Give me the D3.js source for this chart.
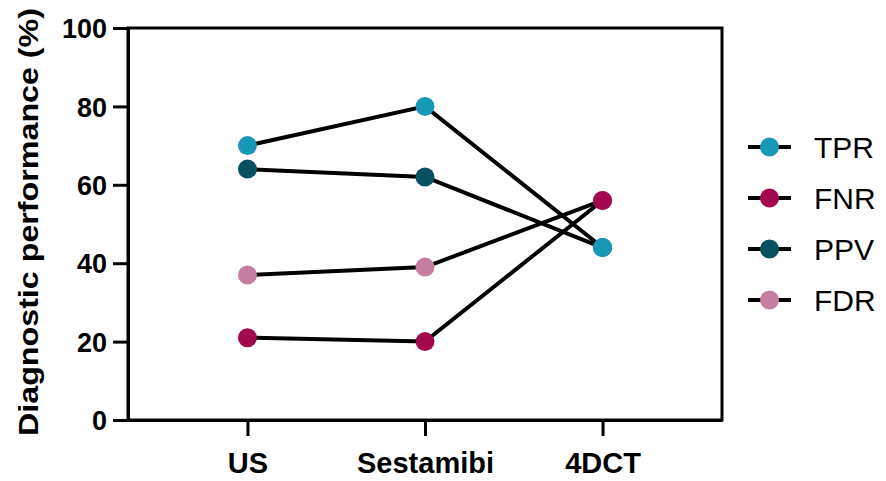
<!DOCTYPE html>
<html><head><meta charset="utf-8">
<script src="https://cdn.jsdelivr.net/npm/d3@7"></script>
<style>body{margin:0;background:#fff}svg{display:block}text{font-family:"Liberation Sans",Arial,sans-serif}</style>
</head><body><svg id="c" width="886" height="481"></svg>
<script>
const categories = ["US", "Sestamibi", "4DCT"];
const seriesNames = ["TPR", "FNR", "PPV", "FDR"];
const TPR = [70, 80, 44];
const FNR = [21, 20, 56];
const PPV = [64, 62, 44];
const FDR = [37, 39, 56];
const colors = {TPR: "#1799b5", FNR: "#a3084f", PPV: "#07505f", FDR: "#c67fa1"};
const yTicks = [0, 20, 40, 60, 80, 100];
const yLabel = "Diagnostic performance (%)";

const seriesData = {TPR, FNR, PPV, FDR};
const svg = d3.select("#c");
const L = 128, R = 722, T = 28, B = 420;
const x = d3.scalePoint().domain(categories).range([L, R]).padding(0.673);
const y = d3.scaleLinear().domain([0, 100]).range([B, T]);

// frame (top/right)
svg.append("rect").attr("x", L).attr("y", T).attr("width", R - L).attr("height", B - T)
  .attr("fill", "none").attr("stroke", "#000").attr("stroke-width", 3);

const ya = svg.append("g").attr("transform", `translate(${L},0)`)
  .call(d3.axisLeft(y).tickValues(yTicks).tickSize(15).tickSizeOuter(0).tickPadding(6));
ya.selectAll("path,line").attr("stroke", "#000").attr("stroke-width", 3);
ya.selectAll("text").attr("font-size", 27).attr("font-weight", "bold").attr("fill", "#000")
  .attr("font-family", "Liberation Sans, Arial, sans-serif").attr("dy", "0.36em");

const xa = svg.append("g").attr("transform", `translate(0,${B})`)
  .call(d3.axisBottom(x).tickSize(16).tickSizeOuter(0).tickPadding(16));
xa.selectAll("path,line").attr("stroke", "#000").attr("stroke-width", 3);
xa.selectAll("text").attr("font-size", 29).attr("font-weight", "bold").attr("fill", "#000")
  .attr("font-family", "Liberation Sans, Arial, sans-serif");

svg.append("text").attr("transform", `translate(38,222) rotate(-90)`)
  .attr("text-anchor", "middle").attr("font-size", 28).attr("font-weight", "bold")
  .attr("textLength", 428).attr("lengthAdjust", "spacingAndGlyphs").text(yLabel);

const line = d3.line().x((d, i) => x(categories[i])).y(d => y(d));
const drawOrder = ["FDR", "PPV", "FNR", "TPR"];
const g = svg.append("g");
drawOrder.forEach(s => {
  g.append("path").datum(seriesData[s]).attr("d", line).attr("fill", "none")
    .attr("stroke", "#000").attr("stroke-width", 4);
});
drawOrder.forEach(s => {
  g.selectAll(null).data(seriesData[s]).enter().append("circle")
    .attr("cx", (d, i) => x(categories[i])).attr("cy", d => y(d)).attr("r", 9.5)
    .attr("fill", colors[s]);
});

// legend
const lg = svg.append("g");
seriesNames.forEach((s, i) => {
  const cy = 147 + i * 51;
  lg.append("line").attr("x1", 748).attr("x2", 791).attr("y1", cy).attr("y2", cy)
    .attr("stroke", "#000").attr("stroke-width", 4);
  lg.append("circle").attr("cx", 769.5).attr("cy", cy).attr("r", 9.5).attr("fill", colors[s]);
  lg.append("text").attr("x", 814).attr("y", cy).attr("dy", "0.36em")
    .attr("font-size", 30).attr("fill", "#000").text(s);
});
</script></body></html>
